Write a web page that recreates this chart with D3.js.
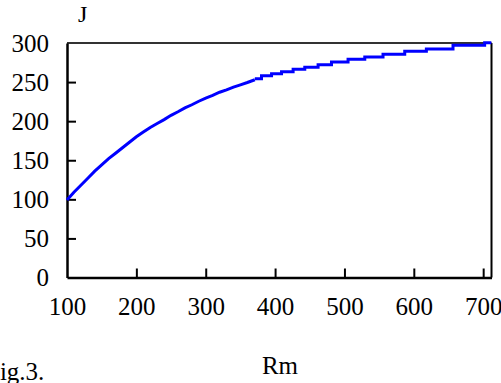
<!DOCTYPE html>
<html>
<head>
<meta charset="utf-8">
<script src="https://cdn.jsdelivr.net/npm/d3@7"></script>
<style>
  body { margin: 0; background: #fff; }
  svg { display: block; }
  svg text { font-family: "Liberation Serif", "Times New Roman", serif !important; fill: #000; }
</style>
</head>
<body>
<div id="chart"></div>
<script>
// smooth lower part of the curve (read every 10 Rm)
const rmLow = [100, 110, 120, 130, 140, 150, 160, 170, 180, 190, 200, 210, 220, 230, 240,
  250, 260, 270, 280, 290, 300, 310, 320, 330, 340, 350, 360, 370.8];
const jLow = [99, 109, 118, 127, 136, 144, 152, 159, 166, 173, 180, 186, 192, 197, 202,
  207.5, 212, 217, 221, 225.5, 229.5, 233, 237, 240, 243.5, 246.5, 249.5, 253];

// staircase upper part (step corners)
const rmHigh = [370.8, 380.4, 394.9, 409.3, 426, 442.8, 462, 481.3, 505.2, 529.3, 555.6,
  586.9, 618.1, 656.5, 702.1, 711.8];
const jHigh = [254.3, 258.2, 260.7, 263.3, 266.3, 268.9, 272.2, 275.7, 279.1, 282.1, 285.5,
  289.4, 292.3, 297, 300.4, 300.4];

const xTicks = [100, 200, 300, 400, 500, 600, 700];
const yTicks = [0, 50, 100, 150, 200, 250, 300];

const W = 501, H = 383;
const margin = { top: 43, right: 9.5, bottom: 105.5, left: 67 };
const width = W - margin.left - margin.right;
const height = H - margin.top - margin.bottom;
const serif = '"Liberation Serif", "Times New Roman", serif';

const svg = d3.select('#chart').append('svg')
  .attr('width', W)
  .attr('height', H);

const g = svg.append('g')
  .attr('transform', `translate(${margin.left},${margin.top})`);

const x = d3.scaleLinear().domain([100, 712]).range([0, width]);
const y = d3.scaleLinear().domain([0, 300]).range([height, 0]);

// frame: top and right
g.append('line')
  .attr('x1', 0).attr('x2', width).attr('y1', 0).attr('y2', 0)
  .attr('stroke', '#333').attr('stroke-width', 2);
g.append('line')
  .attr('x1', width).attr('x2', width).attr('y1', 0).attr('y2', height)
  .attr('stroke', '#000').attr('stroke-width', 2);

// axes with inward ticks
const xAxis = g.append('g')
  .attr('transform', `translate(0,${height})`)
  .call(d3.axisBottom(x).tickValues(xTicks).tickSize(-9).tickPadding(20).tickSizeOuter(0));
const yAxis = g.append('g')
  .call(d3.axisLeft(y).tickValues(yTicks).tickSize(-9).tickPadding(18).tickSizeOuter(0));

[xAxis, yAxis].forEach(a => {
  a.attr('font-family', serif).attr('font-size', 25);
  a.select('.domain').attr('stroke', '#000').attr('stroke-width', 2.5);
  a.selectAll('.tick line').attr('stroke', '#000').attr('stroke-width', 2);
  a.selectAll('.tick text').attr('fill', '#000');
});
xAxis.selectAll('.tick').filter(d => d === 100).select('line').remove();
yAxis.selectAll('.tick').filter(d => d === 0 || d === 300).select('line').remove();

// curve
const lowData = rmLow.map((r, i) => [r, jLow[i]]);
const highData = rmHigh.map((r, i) => [r, jHigh[i]]);

g.append('path')
  .datum(lowData)
  .attr('fill', 'none')
  .attr('stroke', '#0000ff')
  .attr('stroke-width', 3)
  .attr('d', d3.line().x(d => x(d[0])).y(d => y(d[1])));

g.append('path')
  .datum(highData)
  .attr('fill', 'none')
  .attr('stroke', '#0000ff')
  .attr('stroke-width', 3)
  .attr('d', d3.line().x(d => x(d[0])).y(d => y(d[1])).curve(d3.curveStepAfter));

// labels
svg.append('text').attr('x', 78).attr('y', 22).attr('font-size', 24).text('J');
svg.append('text').attr('x', 280).attr('y', 374).attr('text-anchor', 'middle')
  .attr('font-size', 25).text('Rm');
svg.append('text').attr('x', -14).attr('y', 380).attr('font-size', 25).text('Fig.3.');
</script>
</body>
</html>
